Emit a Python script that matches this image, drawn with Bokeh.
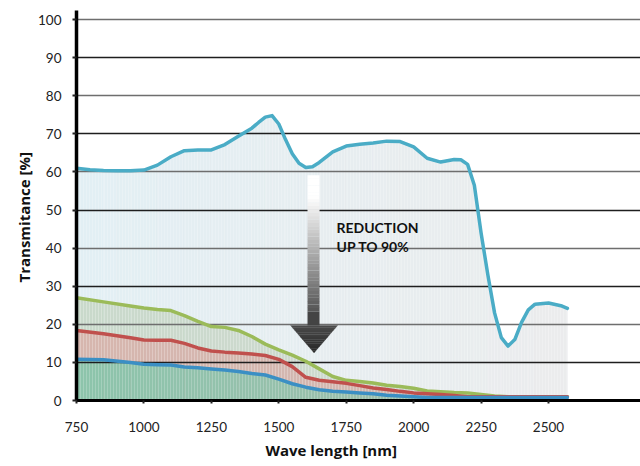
import numpy as np
from bokeh.plotting import figure
from bokeh.models import Range1d, FixedTicker, Grid, Label, Title
from bokeh.embed import file_html
from bokeh.resources import INLINE

# ---------------- data ----------------
top_wl = [750, 800, 850, 900, 950, 1000, 1050, 1100, 1150, 1200, 1250, 1300, 1350,
          1400, 1425, 1450, 1475, 1500, 1525, 1550, 1575, 1600, 1625, 1650, 1700,
          1750, 1800, 1850, 1900, 1950, 2000, 2050, 2100, 2150, 2175, 2200, 2225,
          2250, 2275, 2300, 2325, 2350, 2375, 2400, 2425, 2450, 2500, 2550, 2570]
top_t = [61.0, 60.6, 60.4, 60.3, 60.3, 60.5, 61.8, 64.0, 65.6, 65.8, 65.8, 67.2, 69.4,
         71.5, 73.0, 74.4, 74.8, 72.6, 68.5, 64.8, 62.3, 61.2, 61.4, 62.5, 65.3,
         66.8, 67.3, 67.6, 68.1, 68.0, 66.6, 63.6, 62.6, 63.3, 63.2, 62.0, 56.5,
         44.0, 33.0, 23.0, 16.5, 14.3, 16.0, 20.5, 23.8, 25.3, 25.6, 24.8, 24.2]

low_wl = [750, 850, 950, 1000, 1050, 1100, 1150, 1200, 1250, 1300, 1350, 1400, 1450,
          1500, 1550, 1600, 1650, 1700, 1750, 1800, 1850, 1900, 1950, 2000, 2050,
          2100, 2150, 2200, 2250, 2300, 2350, 2400, 2450, 2500, 2570]
green_t = [27.0, 25.9, 24.8, 24.3, 23.9, 23.6, 22.3, 20.8, 19.4, 19.2, 18.4, 16.8, 14.8,
           13.3, 11.9, 10.3, 8.3, 6.3, 5.3, 5.0, 4.6, 4.0, 3.7, 3.2, 2.5,
           2.3, 2.1, 2.0, 1.6, 1.2, 1.0, 1.0, 1.0, 1.0, 1.0]
red_t = [18.4, 17.5, 16.5, 15.9, 15.8, 15.8, 15.0, 13.8, 13.0, 12.7, 12.5, 12.2, 11.8,
         10.8, 8.9, 6.1, 5.3, 4.9, 4.5, 3.9, 3.3, 2.9, 2.4, 2.0, 1.8,
         1.6, 1.3, 1.0, 1.0, 1.0, 1.0, 1.0, 1.0, 1.0, 1.0]
blue_t = [10.8, 10.7, 10.0, 9.5, 9.4, 9.3, 8.8, 8.6, 8.3, 8.0, 7.6, 7.1, 6.7,
          5.6, 4.4, 3.5, 2.8, 2.4, 2.2, 2.0, 1.8, 1.4, 1.2, 1.0, 0.8,
          0.8, 0.8, 0.8, 0.8, 0.8, 0.8, 0.8, 0.8, 0.8, 0.8]

x_ticks = [750, 1000, 1250, 1500, 1750, 2000, 2250, 2500]
y_ticks_dark = [10, 30, 50, 70, 90]
y_ticks_light = [20, 40, 60, 80, 100]
y_ticks = [0, 10, 20, 30, 40, 50, 60, 70, 80, 90, 100]

x_title = "Wave length [nm]"
y_title = "Transmitance  [%]"
note_lines = ["REDUCTION", "UP TO 90%"]

# arrow annotation (data units)
ARROW_X = (1606.5, 1651.0)
ARROW_HEAD_X = (1543.5, 1718.0)
ARROW_SHAFT_Y = (23.4, 59.1)
ARROW_BLOCK_Y = 19.7
ARROW_TIP_Y = 12.5

FONT = "Lato"
TITLE_FONT = "Open Sans"

# ---------------- helpers ----------------
def hex2rgb(h):
    h = h.lstrip("#")
    return np.array([int(h[i:i + 2], 16) for i in (0, 2, 4)], dtype=float)

def mix(c1, c2, t):
    a, b = hex2rgb(c1), hex2rgb(c2)
    c = a + (b - a) * t
    return "#%02x%02x%02x" % tuple(int(round(v)) for v in c)

def gradient_area(p, xs, ys, c_left, c_right, hatch_alpha=0.0):
    polys_x, polys_y, cols = [], [], []
    x0, x1 = xs[0], xs[-1]
    for i in range(len(xs) - 1):
        polys_x.append([xs[i], xs[i + 1], xs[i + 1], xs[i]])
        polys_y.append([0, 0, ys[i + 1], ys[i]])
        t = ((xs[i] + xs[i + 1]) / 2 - x0) / (x1 - x0)
        cols.append(mix(c_left, c_right, t))
    p.patches(polys_x, polys_y, fill_color=cols, line_color=cols, line_width=0.3,
              level="image")
    if hatch_alpha > 0:
        p.patches(polys_x, polys_y, fill_alpha=0, line_color=None,
                  hatch_pattern="vertical_line", hatch_color="white",
                  hatch_alpha=hatch_alpha, hatch_scale=3.0, hatch_weight=1.0,
                  level="image")

# ---------------- figure ----------------
p = figure(width=640, height=466, output_backend="svg", toolbar_location=None,
           x_range=Range1d(750, 2841), y_range=Range1d(0, 102.4),
           min_border_left=76, min_border_right=0, min_border_top=10,
           min_border_bottom=66)
p.outline_line_color = None
p.background_fill_color = "white"
p.border_fill_color = "white"

# fills (stacked from the bottom, painted largest first)
gradient_area(p, top_wl, top_t, "#e2eff4", "#ebeced", 0.2)
gradient_area(p, low_wl, green_t, "#c9d9cb", "#d2dad2", 0.25)
gradient_area(p, low_wl, red_t, "#d6b6ae", "#d0b8b2", 0.25)
gradient_area(p, low_wl, blue_t, "#8cc4ab", "#a4bcae", 0.2)

# grids
p.xgrid.visible = False
p.ygrid.ticker = FixedTicker(ticks=y_ticks_dark)
p.ygrid.grid_line_color = "#1e1e1e"
p.ygrid.grid_line_width = 1.5
g2 = Grid(dimension=1, ticker=FixedTicker(ticks=y_ticks_light),
          grid_line_color="#6e6e6e", grid_line_width=1.5)
p.add_layout(g2)

# curves
lw = 3.5
p.line(top_wl, top_t, line_width=lw, color="#4aacc6", line_join="round", line_cap="round")
p.line(low_wl, green_t, line_width=lw, color="#9bbb59", line_join="round", line_cap="round")
p.line(low_wl, red_t, line_width=lw, color="#c0504d", line_join="round", line_cap="round")
p.line(low_wl, blue_t, line_width=lw, color="#3b8fc4", line_join="round", line_cap="round")

# arrow: gradient shaft
n = 40
ys = np.linspace(ARROW_SHAFT_Y[0], ARROW_SHAFT_Y[1], n + 1)
bots, tops, cols = [], [], []
for i in range(n):
    t = i / (n - 1)  # 0 bottom -> 1 top
    tt = min(1.0, t / 0.85)
    cols.append(mix("#575757", "#ffffff", tt))
    bots.append(ys[i])
    tops.append(ys[i + 1] + 0.05)
p.quad(left=ARROW_X[0], right=ARROW_X[1], bottom=bots, top=tops,
       fill_color=cols, line_color=None)
p.quad(left=ARROW_X[0], right=ARROW_X[1], bottom=ARROW_BLOCK_Y, top=ARROW_SHAFT_Y[0],
       fill_color="#444444", line_color=None)
# arrow head in slices
m = 12
cx = (ARROW_HEAD_X[0] + ARROW_HEAD_X[1]) / 2
half = (ARROW_HEAD_X[1] - ARROW_HEAD_X[0]) / 2
hx, hy, hc = [], [], []
for i in range(m):
    f0, f1 = i / m, (i + 1) / m
    y0 = ARROW_BLOCK_Y - (ARROW_BLOCK_Y - ARROW_TIP_Y) * f0
    y1 = ARROW_BLOCK_Y - (ARROW_BLOCK_Y - ARROW_TIP_Y) * f1
    w0, w1 = half * (1 - f0), half * (1 - f1)
    hx.append([cx - w0, cx + w0, cx + w1, cx - w1])
    hy.append([y0, y0, y1, y1])
    hc.append(mix("#4a4a4a", "#262626", f0))
p.patches(hx, hy, fill_color=hc, line_color=hc, line_width=0.3)

# note text
p.add_layout(Label(x=1714, y=45.3, text=note_lines[0], text_font=FONT,
                   text_font_style="bold", text_font_size="14px", text_color="#111111",
                   text_baseline="alphabetic"))
p.add_layout(Label(x=1714, y=40.4, text=note_lines[1], text_font=FONT,
                   text_font_style="bold", text_font_size="14px", text_color="#111111",
                   text_baseline="alphabetic"))

# axes
for ax in (p.xaxis[0], p.yaxis[0]):
    ax.axis_line_color = "black"
    ax.major_tick_line_color = "#222222"
    ax.major_tick_line_width = 2
    ax.major_tick_in = 0
    ax.minor_tick_line_color = None
    ax.major_label_text_font = FONT
    ax.major_label_text_font_size = "13.5px"
    ax.major_label_text_color = "#222222"
p.yaxis.axis_line_width = 3.5
p.xaxis.axis_line_width = 3
p.yaxis.ticker = FixedTicker(ticks=y_ticks)
p.xaxis.ticker = FixedTicker(ticks=x_ticks)
p.yaxis.major_tick_out = 4
p.yaxis.major_label_standoff = 11
p.xaxis.major_tick_out = 3
p.xaxis.major_label_standoff = 18

# axis titles as side-panel titles, shifted like the reference
p.add_layout(Title(text=x_title, align="left", offset=189, text_font=TITLE_FONT,
                   text_font_style="bold", text_font_size="15px",
                   text_color="#111111", standoff=7), "below")
p.add_layout(Title(text=y_title, align="left", offset=118, text_font=TITLE_FONT,
                   text_font_style="bold", text_font_size="15px",
                   text_color="#111111", standoff=4), "left")

open("out.html", "w").write(file_html(p, INLINE))
